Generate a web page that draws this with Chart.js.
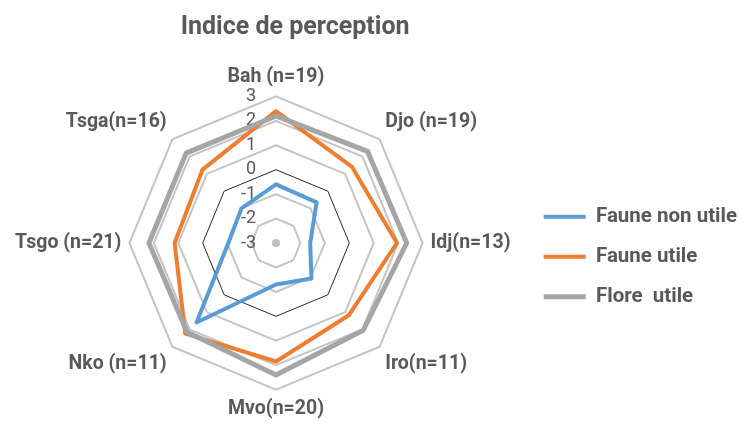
<!DOCTYPE html>
<html>
<head>
<meta charset="utf-8">
<script src="https://cdn.jsdelivr.net/npm/chart.js@4.4.1/dist/chart.umd.min.js"></script>
<style>
  html, body { margin:0; padding:0; background:#fff; }
  #wrap { width:742px; height:426px; }
</style>
</head>
<body>
<div id="wrap"><canvas id="radar" width="742" height="426"></canvas></div>
<script>
// sites (with sample size)
const sites = ['Bah (n=19)', 'Djo (n=19)', 'Idj(n=13)', 'Iro(n=11)', 'Mvo(n=20)', 'Nko (n=11)', 'Tsgo (n=21)', 'Tsga(n=16)'];

// perception index per site
const fauneNonUtile = [-0.6, -0.65, -1.6, -0.95, -1.3, 1.6, -1.05, -1.0];
const fauneUtile    = [2.4, 1.4, 1.95, 1.2, 1.85, 2.25, 1.15, 1.25];
const floreUtile    = [2.2, 2.3, 2.35, 2.05, 2.4, 2.15, 2.2, 2.2];

const tickValues = [-3, -2, -1, 0, 1, 2, 3];

const txt = '#595959';
const fam = 'Roboto, "Open Sans", sans-serif';

// tick numbers sit left of the vertical axis, like Excel does it
const tickLabels = {
  id: 'tickLabels',
  beforeDatasetsDraw(chart){
    const r = chart.scales.r;
    const ctx = chart.ctx;
    ctx.save();
    ctx.font = '18px ' + fam;
    ctx.fillStyle = txt;
    ctx.textAlign = 'right';
    ctx.textBaseline = 'middle';
    tickValues.forEach(v => {
      const d = r.getDistanceFromCenterForValue(v);
      ctx.fillText(String(v), r.xCenter - 20, r.yCenter - d);
    });
    // little dot at the centre
    ctx.fillStyle = '#bfbfbf';
    ctx.beginPath();
    ctx.arc(r.xCenter, r.yCenter, 4, 0, Math.PI * 2);
    ctx.fill();
    ctx.restore();
  }
};

// title is centred a bit right of the plot in the original
const nudgeTitle = {
  id: 'nudgeTitle',
  afterLayout(chart){
    const t = chart.titleBlock;
    if(t){ t.left += 32; t.right += 32; }
  }
};

new Chart(document.getElementById('radar'), {
  type: 'radar',
  data: {
    labels: sites,
    datasets: [
      { label: 'Faune non utile', data: fauneNonUtile, borderColor: '#5b9bd5', backgroundColor: '#5b9bd5', borderWidth: 4, fill: false, pointRadius: 0, order: 3 },
      { label: 'Faune utile', data: fauneUtile, borderColor: '#ed7d31', backgroundColor: '#ed7d31', borderWidth: 4, fill: false, pointRadius: 0, order: 2 },
      { label: 'Flore  utile', data: floreUtile, borderColor: '#a5a5a5', backgroundColor: '#a5a5a5', borderWidth: 5, fill: false, pointRadius: 0, order: 1 }
    ]
  },
  options: {
    responsive: false,
    animation: false,
    layout: { padding: { left: 2, right: -5, top: 8, bottom: 1 } },
    elements: { line: { tension: 0, borderJoinStyle: 'round' } },
    plugins: {
      title: {
        display: true, text: 'Indice de perception', color: txt, fullSize: false,
        font: { family: fam, size: 25, weight: 'bold' }, padding: { top: 5, bottom: 19 }
      },
      legend: {
        position: 'right',
        title: { display: true, text: '', padding: { top: 66, bottom: 0 } },
        labels: {
          usePointStyle: true, pointStyle: 'line', pointStyleWidth: 42, boxHeight: 4,
          padding: 19.5, color: txt,
          font: { family: fam, size: 20.5, weight: 'bold' },
          sort: (a, b) => a.datasetIndex - b.datasetIndex
        }
      },
      tooltip: { enabled: false }
    },
    scales: {
      r: {
        min: -3, max: 3,
        ticks: { stepSize: 1, display: false },
        angleLines: { display: false },
        grid: {
          color: c => c.tick && c.tick.value === 0 ? '#262626' : '#c4c4c4',
          lineWidth: c => c.tick && c.tick.value === 0 ? 1 : 2
        },
        pointLabels: { color: txt, font: { family: fam, size: 19.5, weight: 'bold' }, padding: 8 }
      }
    }
  },
  plugins: [tickLabels, nudgeTitle]
});
</script>
</body>
</html>
